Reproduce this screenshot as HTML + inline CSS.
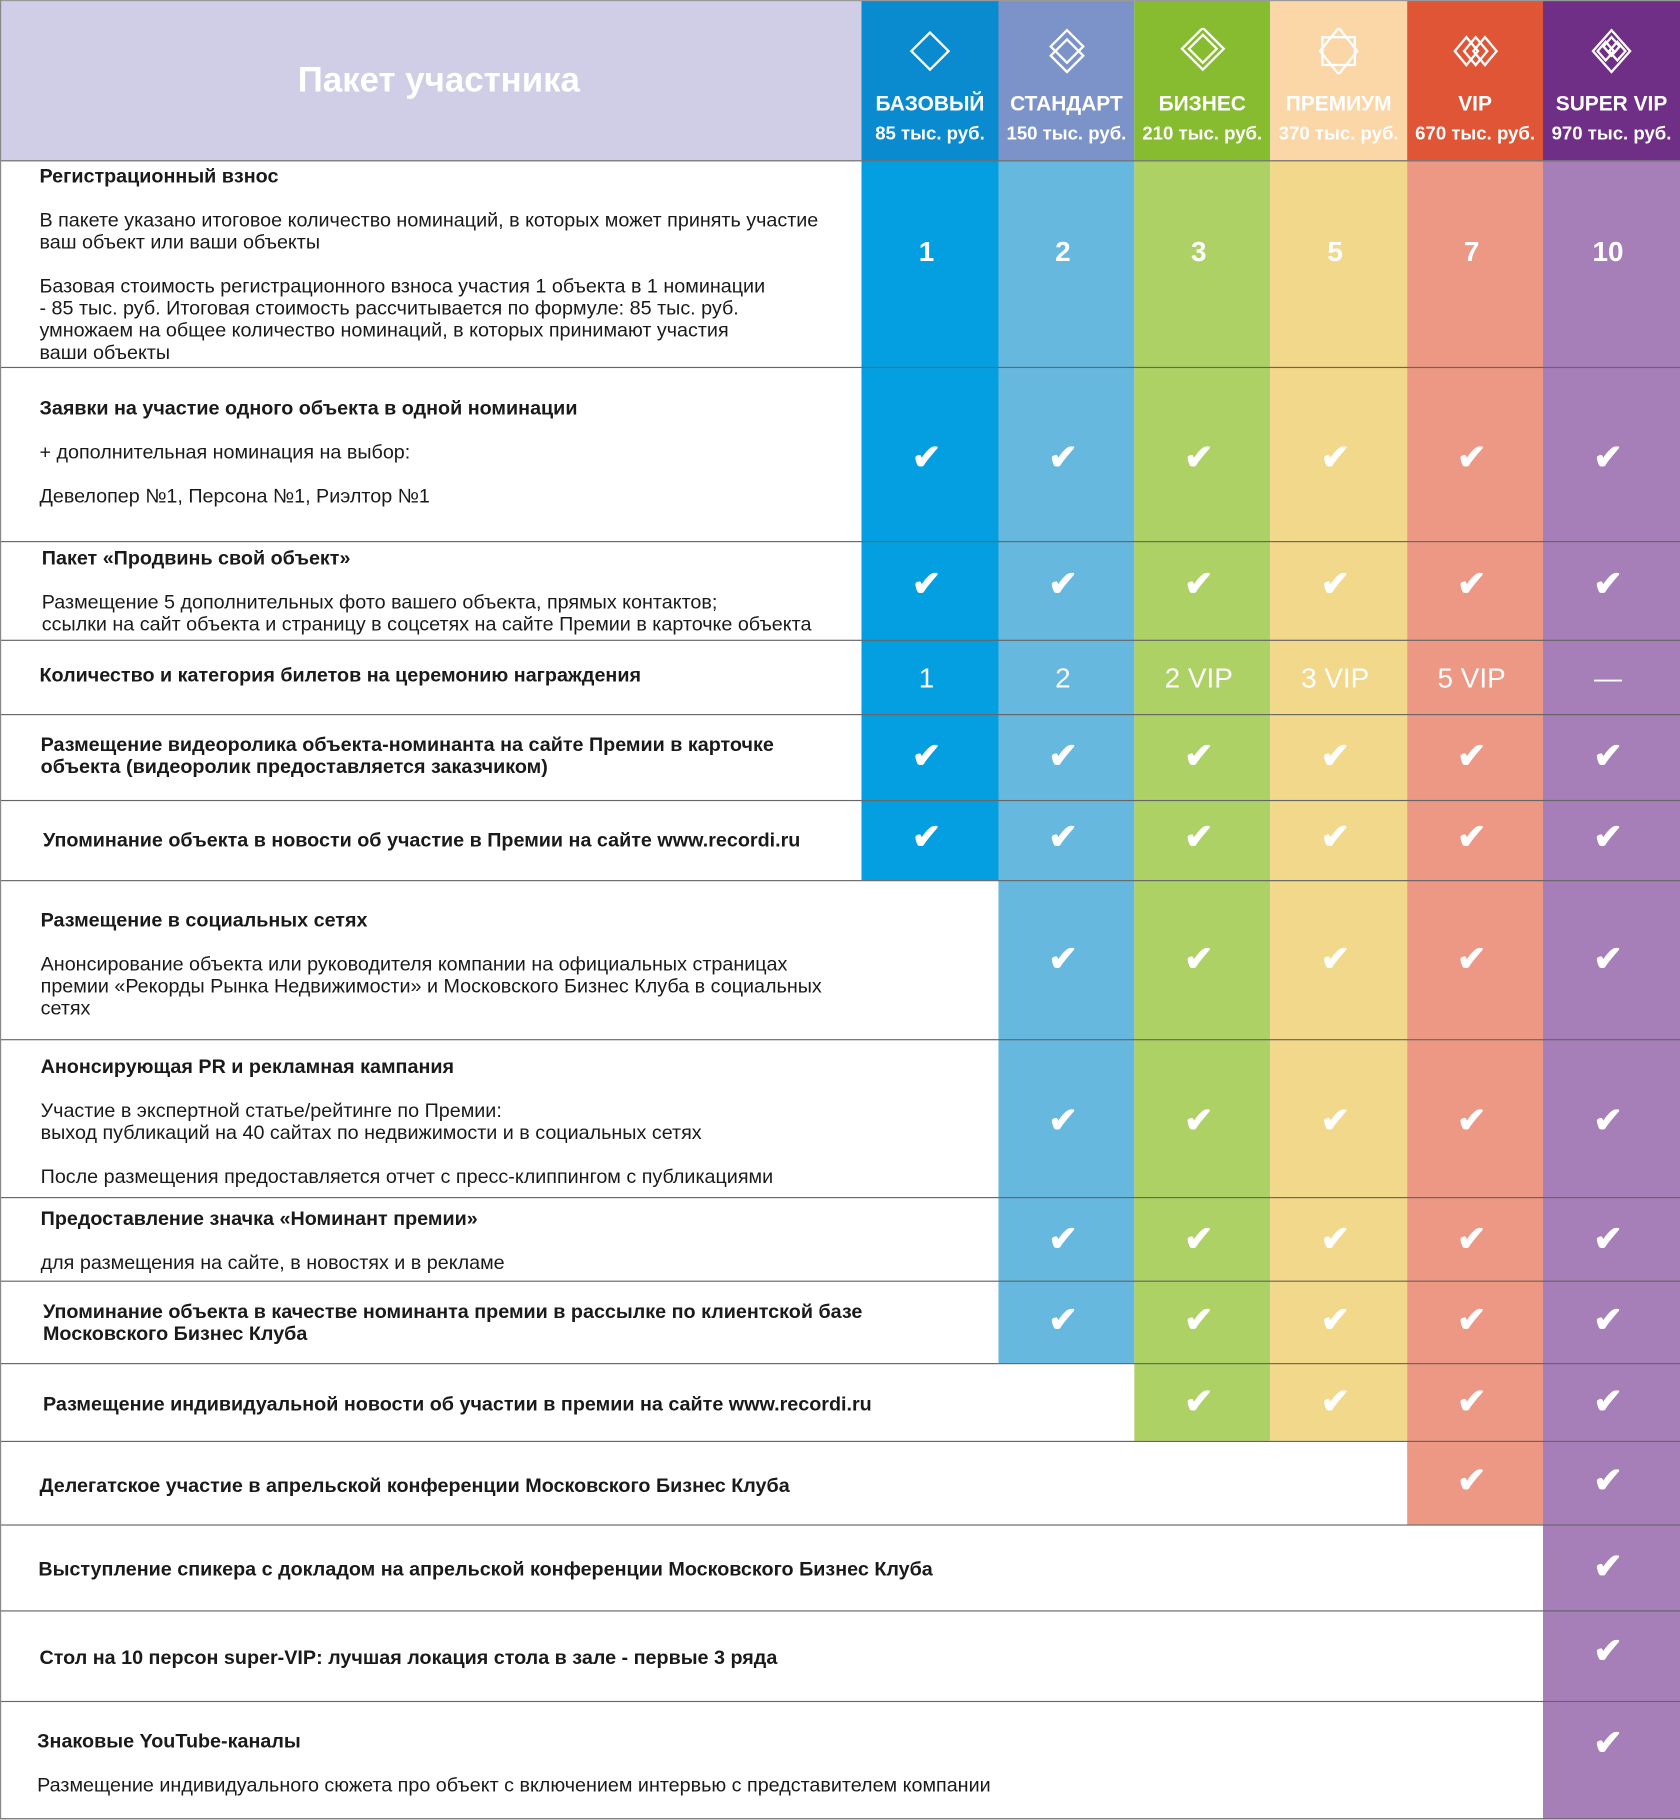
<!DOCTYPE html>
<html><head><meta charset="utf-8">
<style>
html,body{margin:0;padding:0;background:#fff;}
body{width:1680px;height:1820px;overflow:hidden;position:relative;}
#wrap{position:absolute;left:0;top:0;width:1447px;height:1567px;transform:scale(1.16103);transform-origin:0 0;font-family:"Liberation Sans","Noto Sans CJK SC",sans-serif;}
.abs{position:absolute;}
.t{position:absolute;white-space:nowrap;font-size:17px;color:#1a1a1a;line-height:19px;}
.b{font-weight:bold;}
.v{position:absolute;color:#fff;text-align:center;width:117px;}
.hl{position:absolute;left:0;width:1447px;height:1px;background:#666;}
</style></head><body>
<div id="wrap">
<div class="abs" style="left:0;top:0;width:742px;height:138px;background:#d0cde6;"></div>
<div class="t b" style="left:0;width:756px;text-align:center;top:52px;font-size:30px;line-height:36px;color:#fff;">Пакет участника</div>
<div id="cols"></div>
<div id="rows"></div>
</div>
<script>
const tiers=["БАЗОВЫЙ","СТАНДАРТ","БИЗНЕС","ПРЕМИУМ","VIP","SUPER VIP"];
const prices=["85 тыс. руб.","150 тыс. руб.","210 тыс. руб.","370 тыс. руб.","670 тыс. руб.","970 тыс. руб."];
const headColors=["#0a8bd0","#7b93c9","#87bc30","#fbd6a6","#e05536","#6f2f87"];
const bodyColors=["#049fe0","#67b8df","#aed166","#f2d88a","#ec9885","#a67eb8"];
const nominations=["1","2","3","5","7","10"];
const tickets=["1","2","2 VIP","3 VIP","5 VIP","—"];
// first tier index that includes each feature row (rows 0..14)
const minTier=[0,0,0,0,0,0,1,1,1,1,2,4,5,5,5];
const rowTops=[138,316,466,551,615,689,758,895,1031,1103,1174,1241,1313,1387,1465,1567];
const markY=[218,395,504,585,652,722,827,966,1068,1138,1208,1276,1350,1423,1502];
const rowText=[
 [[34,152,1,"Регистрационный взнос"],[34,190,0,"В пакете указано итоговое количество номинаций, в которых может принять участие"],[34,209,0,"ваш объект или ваши объекты"],[34,247,0,"Базовая стоимость регистрационного взноса участия 1 объекта в 1 номинации"],[34,266,0,"- 85 тыс. руб. Итоговая стоимость рассчитывается по формуле: 85 тыс. руб."],[34,285,0,"умножаем на общее количество номинаций, в которых принимают участия"],[34,304,0,"ваши объекты"]],
 [[34,352,1,"Заявки на участие одного объекта  в одной номинации"],[34,390,0,"+ дополнительная номинация на выбор:"],[34,428,0,"Девелопер №1, Персона №1, Риэлтор №1"]],
 [[36,481,1,"Пакет «Продвинь свой объект»"],[36,519,0,"Размещение 5 дополнительных фото вашего объекта, прямых контактов;"],[36,538,0,"ссылки на сайт объекта и страницу в соцсетях на сайте Премии в карточке объекта"]],
 [[34,582,1,"Количество и категория билетов на церемонию награждения"]],
 [[35,642,1,"Размещение видеоролика объекта-номинанта на сайте Премии в карточке"],[35,661,1,"объекта (видеоролик предоставляется заказчиком)"]],
 [[37,724,1,"Упоминание объекта в новости об участие в Премии на сайте www.recordi.ru"]],
 [[35,793,1,"Размещение в социальных сетях"],[35,831,0,"Анонсирование объекта или руководителя компании на официальных страницах"],[35,850,0,"премии «Рекорды Рынка Недвижимости» и Московского Бизнес Клуба в социальных"],[35,869,0,"сетях"]],
 [[35,919,1,"Анонсирующая PR и рекламная кампания"],[35,957,0,"Участие в экспертной статье/рейтинге по Премии:"],[35,976,0,"выход публикаций на 40 сайтах по недвижимости и в социальных сетях"],[35,1014,0,"После размещения предоставляется отчет с пресс-клиппингом с публикациями"]],
 [[35,1050,1,"Предоставление значка «Номинант премии»"],[35,1088,0,"для размещения на сайте, в новостях и в рекламе"]],
 [[37,1130,1,"Упоминание объекта в качестве номинанта премии в рассылке по клиентской базе"],[37,1149,1,"Московского Бизнес Клуба"]],
 [[37,1210,1,"Размещение индивидуальной новости об участии в премии на сайте www.recordi.ru"]],
 [[34,1280,1,"Делегатское участие в апрельской конференции Московского Бизнес Клуба"]],
 [[33,1352,1,"Выступление спикера с докладом на апрельской конференции Московского Бизнес Клуба"]],
 [[34,1428,1,"Стол на 10 персон super-VIP: лучшая локация стола в зале - первые 3 ряда"]],
 [[32,1500,1,"Знаковые YouTube-каналы"],[32,1538,0,"Размещение индивидуального сюжета про объект с включением интервью с представителем компании"]]
];
const colX=[742,860,977,1094,1212,1329,1447];
const cols=document.getElementById('cols');
const rows=document.getElementById('rows');
function mk(parent,cls,style,text){const d=document.createElement('div');d.className=cls;d.setAttribute('style',style);if(text!=null)d.textContent=text;parent.appendChild(d);return d;}
const icons=[
 '<path d="M20 4L36 20L20 36L4 20Z"/>',
 '<path d="M20 2L34 16L20 30L6 16Z"/><path d="M20 10L34 24L20 38L6 24Z"/>',
 '<path d="M20 0L38 18L20 36L2 18Z"/><path d="M20 6L32 18L20 30L8 18Z"/>',
 '<path d="M20 0L36 20L20 40L4 20Z"/><path d="M6 8H34V32H6Z"/>',
 '<path d="M12 8L22 20L12 32L2 20Z"/><path d="M20 8L30 20L20 32L10 20Z"/><path d="M28 8L38 20L28 32L18 20Z"/>',
 '<path d="M20 2L36 20L20 38L4 20Z"/><path d="M15 12L22 20L15 28L8 20Z"/><path d="M25 12L32 20L25 28L18 20Z"/><path d="M20 8L27 16L20 24L13 16Z"/>'
];
for(let i=0;i<6;i++){
  const w=colX[i+1]-colX[i];
  const h=mk(cols,'abs',`left:${colX[i]}px;top:0;width:${w}px;height:138px;background:${headColors[i]};`);
  
  
  h.innerHTML=`<svg width="40" height="40" viewBox="0 0 40 40" style="position:absolute;left:${w/2-20}px;top:24px" fill="none" stroke="#fff" stroke-width="2">${icons[i]}</svg>`;
  const n=mk(h,'v b',`left:0;top:79px;width:${w}px;font-size:18px;`,tiers[i]);
  
  
  const p=mk(h,'v b',`left:0;top:107px;width:${w}px;font-size:16px;`,prices[i]);
  
  
  let last=0; for(let r=0;r<minTier.length;r++){ if(minTier[r]<=i) last=r; }
  const c=mk(cols,'abs',`left:${colX[i]}px;top:138px;width:${w}px;height:${rowTops[last+1]-138}px;background:${bodyColors[i]};`);
  
  
  for(let r=0;r<minTier.length;r++){
    if(minTier[r]>i) continue;
    let txt='✔',fs=30,fw='bold';
    if(r===0){txt=nominations[i];fs=24;}
    else if(r===3){txt=tickets[i];fs=24;fw='normal';}
    const m=mk(cols,'v',`left:${colX[i]-3}px;width:${w}px;top:${markY[r]-fs*0.6}px;font-size:${fs}px;line-height:${fs*1.2}px;font-weight:${fw};`,txt);
    
    
  }
}
for(let r=0;r<rowText.length;r++){
  const row=mk(rows,'abs',`left:0;top:0;width:0;height:0;`);
  
  
  rowText[r].forEach(l=>{
    const t=mk(row,'t'+(l[2]?' b':''),`left:${l[0]}px;top:${l[1]-10}px;`,l[3]);
    
    
  });
}
for(let r=0;r<rowTops.length;r++){
  const y=rowTops[r]===1567?1566:rowTops[r];
  const l=mk(rows,'hl',`top:${y}px;`);
  
  
}
const top0=mk(rows,'hl','top:0;background:#999;');


const lb=mk(rows,'abs','left:0;top:0;width:1px;height:1567px;background:#888;');


</script>
</body></html>
